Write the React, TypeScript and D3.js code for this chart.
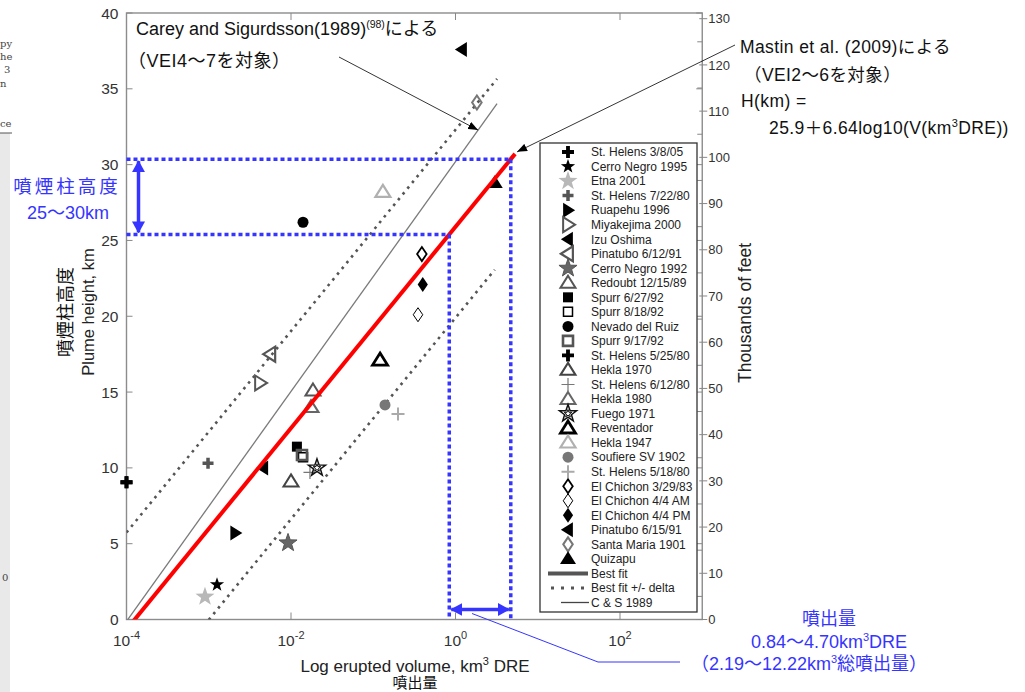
import React from "react";
import * as d3 from "d3";

// ---------------- data ----------------
const eruptionNames = [
  "St. Helens 3/8/05", "Cerro Negro 1995", "Etna 2001", "St. Helens 7/22/80",
  "Ruapehu 1996", "Miyakejima 2000", "Izu Oshima", "Pinatubo 6/12/91",
  "Cerro Negro 1992", "Redoubt 12/15/89", "Spurr 6/27/92", "Spurr 8/18/92",
  "Nevado del Ruiz", "Spurr 9/17/92", "St. Helens 5/25/80", "Hekla 1970",
  "St. Helens 6/12/80", "Hekla 1980", "Fuego 1971", "Reventador",
  "Hekla 1947", "Soufiere SV 1902", "St. Helens 5/18/80", "El Chichon 3/29/83",
  "El Chichon 4/4 AM", "El Chichon 4/4 PM", "Pinatubo 6/15/91", "Santa Maria 1901",
  "Quizapu",
];
// erupted volume, km3 DRE
const eruptedVolume = [
  1.0e-4, 1.26e-3, 9.0e-4, 9.8e-4,
  2.1e-3, 4.2e-3, 4.6e-3, 5.6e-3,
  9.2e-3, 0.0185, 0.0118, 0.0140,
  0.0140, 0.0136, 1.0e-4, 0.0100,
  0.0170, 0.0175, 0.0207, 0.121,
  0.131, 0.139, 0.200, 0.39,
  0.35, 0.40, 1.20, 1.82,
  3.0,
];
// plume height, km
const plumeHeight = [
  9.05, 2.3, 1.5, 10.3,
  5.7, 15.6, 10.0, 17.5,
  5.05, 15.1, 11.4, 10.7,
  26.2, 10.85, 9.05, 9.1,
  9.7, 14.0, 10.0, 17.1,
  28.2, 14.15, 13.55, 24.1,
  20.1, 22.1, 37.6, 34.1,
  28.8,
];

const yTicksKm = [0, 5, 10, 15, 20, 25, 30, 35, 40];
const xTickValues = [1e-4, 1e-2, 1, 1e2];
const xTickExponents = ["-4", "-2", "0", "2"];
const xMinorTickValues = [1e-2, 1, 1e2];
const feetTicks = [0, 10, 20, 30, 40, 50, 60, 70, 80, 90, 100, 110, 120, 130];
const feetMinorTicks = [5, 15, 25, 35, 45, 55, 65, 75, 85, 95, 105, 115, 125];

// Mastin et al. (2009) best fit: H = 25.9 + 6.64 log10(V)
const fitIntercept = 25.9;
const fitSlope = 6.64;
const deltaUpper = 6.4;
const deltaLower = 6.0;
const fitExtent = [1e-4, 5.3];
const upperExtent = [1e-4, 3.2];
const lowerExtent = [1e-3, 3.0];
// Carey & Sigurdsson (1989)
const csIntercept = 30.2;
const csSlope = 7.58;
const csExtent = [1e-4, 3.2];
const csPointerVolume = 1.88;
// highlighted range
const dreRange = [0.84, 4.7];

// ---------------- styles ----------------
type MS = { shape: string; r: number; fill: string; stroke: string; sw: number; inner?: boolean };
const markerStyles: MS[] = [
  { shape: "cross", r: 6, fill: "#000", stroke: "none", sw: 0 },
  { shape: "star", r: 7.5, fill: "#000", stroke: "none", sw: 0 },
  { shape: "star", r: 10, fill: "#b8b8b8", stroke: "none", sw: 0 },
  { shape: "cross", r: 5.5, fill: "#555", stroke: "none", sw: 0 },
  { shape: "triR", r: 7.5, fill: "#000", stroke: "none", sw: 0 },
  { shape: "triR", r: 7.5, fill: "none", stroke: "#555", sw: 2 },
  { shape: "triL", r: 7.5, fill: "#000", stroke: "none", sw: 0 },
  { shape: "triL", r: 7.5, fill: "none", stroke: "#555", sw: 2.2 },
  { shape: "star", r: 9.5, fill: "#666", stroke: "#555", sw: 1 },
  { shape: "triU", r: 7.5, fill: "none", stroke: "#555", sw: 2 },
  { shape: "square", r: 5, fill: "#000", stroke: "none", sw: 0 },
  { shape: "square", r: 4.5, fill: "none", stroke: "#000", sw: 1.5 },
  { shape: "circle", r: 5.5, fill: "#000", stroke: "none", sw: 0 },
  { shape: "square", r: 5, fill: "none", stroke: "#555", sw: 2.6 },
  { shape: "cross", r: 6, fill: "#000", stroke: "none", sw: 0 },
  { shape: "triU", r: 7.5, fill: "none", stroke: "#444", sw: 2 },
  { shape: "plus", r: 6.5, fill: "none", stroke: "#777", sw: 1.2 },
  { shape: "triU", r: 7.5, fill: "none", stroke: "#666", sw: 2 },
  { shape: "star", r: 9, fill: "none", stroke: "#111", sw: 1.5, inner: true },
  { shape: "triU", r: 7.5, fill: "none", stroke: "#000", sw: 2.8 },
  { shape: "triU", r: 7.5, fill: "none", stroke: "#b0b0b0", sw: 2.2 },
  { shape: "circle", r: 5.5, fill: "#777", stroke: "none", sw: 0 },
  { shape: "plus", r: 6.5, fill: "none", stroke: "#aaa", sw: 2 },
  { shape: "diamond", r: 7, fill: "none", stroke: "#000", sw: 1.8 },
  { shape: "diamond", r: 7, fill: "none", stroke: "#000", sw: 1 },
  { shape: "diamond", r: 7.5, fill: "#000", stroke: "none", sw: 0 },
  { shape: "triL", r: 7.5, fill: "#000", stroke: "none", sw: 0 },
  { shape: "diamond", r: 7, fill: "none", stroke: "#777", sw: 2 },
  { shape: "triU", r: 8, fill: "#000", stroke: "none", sw: 0 },
];

function starPath(r: number) {
  const pts: string[] = [];
  for (let i = 0; i < 10; i++) {
    const rr = i % 2 === 0 ? r : r * 0.4;
    const a = (Math.PI / 5) * i - Math.PI / 2;
    pts.push(`${(rr * Math.cos(a)).toFixed(2)},${(rr * Math.sin(a)).toFixed(2)}`);
  }
  return "M" + pts.join("L") + "Z";
}

function shapePath(shape: string, r: number) {
  switch (shape) {
    case "cross": {
      const t = r * 0.32;
      return `M${-t},${-r}H${t}V${-t}H${r}V${t}H${t}V${r}H${-t}V${t}H${-r}V${-t}H${-t}Z`;
    }
    case "plus":
      return `M${-r},0H${r}M0,${-r}V${r}`;
    case "star":
      return starPath(r);
    case "triU":
      return `M0,${-r * 0.95}L${r},${r * 0.65}L${-r},${r * 0.65}Z`;
    case "triR":
      return `M${r * 0.95},0L${-r * 0.65},${r}L${-r * 0.65},${-r}Z`;
    case "triL":
      return `M${-r * 0.95},0L${r * 0.65},${r}L${r * 0.65},${-r}Z`;
    case "square":
      return `M${-r},${-r}H${r}V${r}H${-r}Z`;
    case "diamond":
      return `M0,${-r}L${r * 0.68},0L0,${r}L${-r * 0.68},0Z`;
    case "circle":
      return `M${r},0A${r},${r} 0 1,1 ${-r},0A${r},${r} 0 1,1 ${r},0Z`;
  }
  return "";
}

function Marker({ s, cx, cy }: { s: MS; cx: number; cy: number }) {
  return (
    <g transform={`translate(${cx},${cy})`}>
      <path d={shapePath(s.shape, s.r)} fill={s.fill} stroke={s.stroke} strokeWidth={s.sw} strokeLinejoin="miter" />
      {s.inner ? <path d={starPath(s.r * 0.45)} fill="none" stroke={s.stroke} strokeWidth={1} /> : null}
    </g>
  );
}

const FONT = "'Liberation Sans', Arial, 'Noto Sans CJK JP', sans-serif";
const JFONT = "'Liberation Sans', 'Noto Sans CJK JP', sans-serif";
const BLUE = "#3535ff";

export default function App() {
  const W = 1025;
  const H = 692;
  const x = d3.scaleLog().domain([1e-4, 1e3]).range([126.5, 702.25]);
  const y = d3.scaleLinear().domain([0, 40]).range([619.5, 13]);
  const yFt = d3.scaleLinear().domain([0, 40 / 0.3048]).range([619.5, 13]);
  const x0 = x.range()[0];
  const xR = x.range()[1];
  const yB = y.range()[0];
  const yT = y.range()[1];

  const fit = (v: number) => fitIntercept + fitSlope * Math.log10(v);
  const cs = (v: number) => csIntercept + csSlope * Math.log10(v);
  const line = d3.line<number[]>().x((d) => x(d[0])).y((d) => y(d[1]));
  const seg = (ext: number[], f: (v: number) => number) => line(ext.map((v) => [v, f(v)]));

  const legendY = d3.scaleLinear().domain([0, 31]).range([152, 602.5]);
  const legX = 568;

  const hLow = fit(dreRange[0]);
  const hHigh = fit(dreRange[1]);
  const tipFit = [x(fitExtent[1]), y(fit(fitExtent[1]))];
  const tipCs = [x(csPointerVolume), y(cs(csPointerVolume))];
  const arrowMid = (x(dreRange[0]) + x(dreRange[1])) / 2;

  return (
    <svg width={W} height={H} style={{ position: "absolute", left: 0, top: 0, background: "#fff" }} fontFamily={FONT}>
      <defs>
        <clipPath id="plotClip">
          <rect x={x0} y={yT} width={xR - x0} height={yB - yT} />
        </clipPath>
        <marker id="blackHead" viewBox="0 0 10 8" refX="10" refY="4" markerWidth="10" markerHeight="8" markerUnits="userSpaceOnUse" orient="auto">
          <path d="M0,0L10,4L0,8Z" fill="#000" />
        </marker>
        <marker id="blueHead" viewBox="0 0 12 13" refX="11" refY="6.5" markerWidth="12" markerHeight="13" markerUnits="userSpaceOnUse" orient="auto-start-reverse">
          <path d="M0,0L12,6.5L0,13Z" fill={BLUE} />
        </marker>
      </defs>

      {/* left page artifact */}
      <rect x={0} y={133} width={10} height={H - 133} fill="#e9e9e9" />
      <line x1={0} x2={12} y1={133} y2={133} stroke="#555" strokeWidth={1} />
      <g fontFamily="'DejaVu Serif', serif" fontSize={10} fill="#444">
        <text x={0} y={47}>py</text>
        <text x={0} y={60}>he</text>
        <text x={4} y={73}>3</text>
        <text x={0} y={87}>n</text>
        <text x={0} y={127}>ce</text>
        <text x={2} y={581}>0</text>
      </g>

      {/* plot frame */}
      <rect x={x0} y={yT} width={xR - x0} height={yB - yT} fill="none" stroke="#8c8c8c" strokeWidth={1.4} />

      {/* left ticks & labels */}
      {yTicksKm.map((t) => (
        <g key={"yl" + t}>
          <line x1={x0} x2={x0 + 6} y1={y(t)} y2={y(t)} stroke="#888" strokeWidth={1} />
          <line x1={xR - 6} x2={xR} y1={y(t)} y2={y(t)} stroke="#888" strokeWidth={1} />
          <text x={x0 - 8} y={y(t)} dy="0.36em" textAnchor="end" fontSize={15.5} fill="#333">{t}</text>
        </g>
      ))}

      {/* x ticks */}
      {xMinorTickValues.map((v) => (
        <g key={"xt" + v}>
          <line x1={x(v)} x2={x(v)} y1={yB} y2={yB - 7} stroke="#888" strokeWidth={1} />
          <line x1={x(v)} x2={x(v)} y1={yT} y2={yT + 7} stroke="#888" strokeWidth={1} />
        </g>
      ))}
      {xTickValues.map((v, i) => (
        <text key={"xl" + v} x={x(v)} y={yB + 26} textAnchor="middle" fontSize={15.5} fill="#333">
          10<tspan dy={-7} fontSize={11}>{xTickExponents[i]}</tspan>
        </text>
      ))}

      {/* right feet axis */}
      {feetTicks.map((t) => (
        <g key={"ft" + t}>
          <line x1={xR - 3} x2={xR + 5} y1={yFt(t)} y2={yFt(t)} stroke="#888" strokeWidth={1} />
          <text x={xR + 6} y={yFt(t)} dy="0.36em" fontSize={13} fill="#333">{t}</text>
        </g>
      ))}
      {feetMinorTicks.map((t) => (
        <line key={"fm" + t} x1={xR - 5} x2={xR} y1={yFt(t)} y2={yFt(t)} stroke="#888" strokeWidth={1} />
      ))}

      {/* lines */}
      <g clipPath="url(#plotClip)">
        <path d={seg(csExtent, cs) || ""} stroke="#7a7a7a" strokeWidth={1.3} fill="none" />
        <path d={seg(upperExtent, (v) => fit(v) + deltaUpper) || ""} stroke="#555" strokeWidth={2.6} strokeDasharray="2.6 4.8" fill="none" />
        <path d={seg(lowerExtent, (v) => fit(v) - deltaLower) || ""} stroke="#555" strokeWidth={2.6} strokeDasharray="2.6 4.8" fill="none" />
      </g>

      {/* markers */}
      {eruptionNames.map((n, i) => (
        <Marker key={"m" + i} s={markerStyles[i]} cx={x(eruptedVolume[i])} cy={y(plumeHeight[i])} />
      ))}

      <g clipPath="url(#plotClip)">
        <path d={seg(fitExtent, fit) || ""} stroke="#ff0000" strokeWidth={4} fill="none" />
      </g>

      {/* blue highlight box */}
      <g stroke={BLUE} strokeWidth={3.5} strokeDasharray="4 3" fill="none">
        <line x1={x0} x2={x(dreRange[1])} y1={y(hHigh)} y2={y(hHigh)} />
        <line x1={x0} x2={x(dreRange[0])} y1={y(hLow)} y2={y(hLow)} />
        <line x1={x(dreRange[0])} x2={x(dreRange[0])} y1={y(hLow)} y2={yB} />
        <line x1={x(dreRange[1])} x2={x(dreRange[1])} y1={y(hHigh)} y2={yB} />
      </g>
      <line x1={x0 + 12} x2={x0 + 12} y1={y(hHigh) + 2} y2={y(hLow) - 2} stroke={BLUE} strokeWidth={3.5} markerStart="url(#blueHead)" markerEnd="url(#blueHead)" />
      <line x1={x(dreRange[0]) + 2} x2={x(dreRange[1]) - 2} y1={yB - 10} y2={yB - 10} stroke={BLUE} strokeWidth={3.5} markerStart="url(#blueHead)" markerEnd="url(#blueHead)" />
      <polyline points={`${arrowMid - 8},${yB - 6} 598,662 680,662`} fill="none" stroke={BLUE} strokeWidth={1} />

      {/* legend */}
      <rect x={540} y={143} width={157} height={469} fill="#fff" stroke="#333" strokeWidth={1.3} />
      {eruptionNames.map((n, i) => (
        <g key={"lg" + i}>
          <Marker s={markerStyles[i]} cx={legX} cy={legendY(i)} />
          <text x={591} y={legendY(i)} dy="0.36em" fontSize={12} fill="#222">{n}</text>
        </g>
      ))}
      <line x1={548} x2={588} y1={legendY(29)} y2={legendY(29)} stroke="#555" strokeWidth={4} />
      <text x={591} y={legendY(29)} dy="0.36em" fontSize={12} fill="#222">Best fit</text>
      <line x1={551} x2={590} y1={legendY(30)} y2={legendY(30)} stroke="#555" strokeWidth={3} strokeDasharray="3 7" />
      <text x={591} y={legendY(30)} dy="0.36em" fontSize={12} fill="#222">Best fit +/- delta</text>
      <line x1={561} x2={589} y1={legendY(31)} y2={legendY(31)} stroke="#444" strokeWidth={1.3} />
      <text x={591} y={legendY(31)} dy="0.36em" fontSize={12} fill="#222">C &amp; S 1989</text>

      {/* axis titles */}
      <text x={415} y={672} textAnchor="middle" fontSize={17} fill="#222">
        Log erupted volume, km<tspan dy={-7} fontSize={11}>3</tspan><tspan dy={7}> DRE</tspan>
      </text>
      <text x={415} y={688} textAnchor="middle" fontSize={15} fill="#111" fontFamily={JFONT}>噴出量</text>
      <text transform="translate(72,312) rotate(-90)" textAnchor="middle" fontSize={18} fill="#111" fontFamily={JFONT}>噴煙柱高度</text>
      <text transform="translate(94,312) rotate(-90)" textAnchor="middle" fontSize={16.5} fill="#222">Plume height, km</text>
      <text transform="translate(751,313) rotate(-90)" textAnchor="middle" fontSize={17.5} fill="#222">Thousands of feet</text>

      {/* Carey & Sigurdsson annotation */}
      <g fontFamily={JFONT} fill="#111">
        <text x={136} y={35} fontSize={18}>
          Carey and Sigurdsson(1989)<tspan dy={-7} fontSize={10.5}>(98)</tspan><tspan dy={7}>による</tspan>
        </text>
        <text x={128} y={67} fontSize={18} letterSpacing={0.5}>（VEI4〜7を対象）</text>
      </g>
      <line x1={339} y1={57} x2={tipCs[0]} y2={tipCs[1]} stroke="#000" strokeWidth={0.8} markerEnd="url(#blackHead)" />

      {/* Mastin annotation */}
      <g fontFamily={JFONT} fill="#111" fontSize={17.5} letterSpacing={0.4}>
        <text x={740} y={53}>Mastin et al. (2009)による</text>
        <text x={744} y={81}>（VEI2〜6を対象）</text>
        <text x={741} y={107}>H(km) =</text>
        <text x={769} y={134}>
          25.9＋6.64log10(V(km<tspan dy={-7} fontSize={11}>3</tspan><tspan dy={7}>DRE))</tspan>
        </text>
      </g>
      <line x1={735} y1={45} x2={tipFit[0] + 2} y2={tipFit[1] - 2} stroke="#000" strokeWidth={0.8} markerEnd="url(#blackHead)" />

      {/* blue annotations */}
      <g fontFamily={JFONT} fill={BLUE}>
        <text x={67} y={193} textAnchor="middle" fontSize={18.5} letterSpacing={3}>噴煙柱高度</text>
        <text x={68} y={219} textAnchor="middle" fontSize={18}>25〜30km</text>
        <text x={829} y={625} textAnchor="middle" fontSize={18}>噴出量</text>
        <text x={829} y={648} textAnchor="middle" fontSize={18}>
          0.84〜4.70km<tspan dy={-7} fontSize={11}>3</tspan><tspan dy={7}>DRE</tspan>
        </text>
        <text x={809} y={670} textAnchor="middle" fontSize={18}>
          （2.19〜12.22km<tspan dy={-7} fontSize={11}>3</tspan><tspan dy={7}>総噴出量）</tspan>
        </text>
      </g>
    </svg>
  );
}
